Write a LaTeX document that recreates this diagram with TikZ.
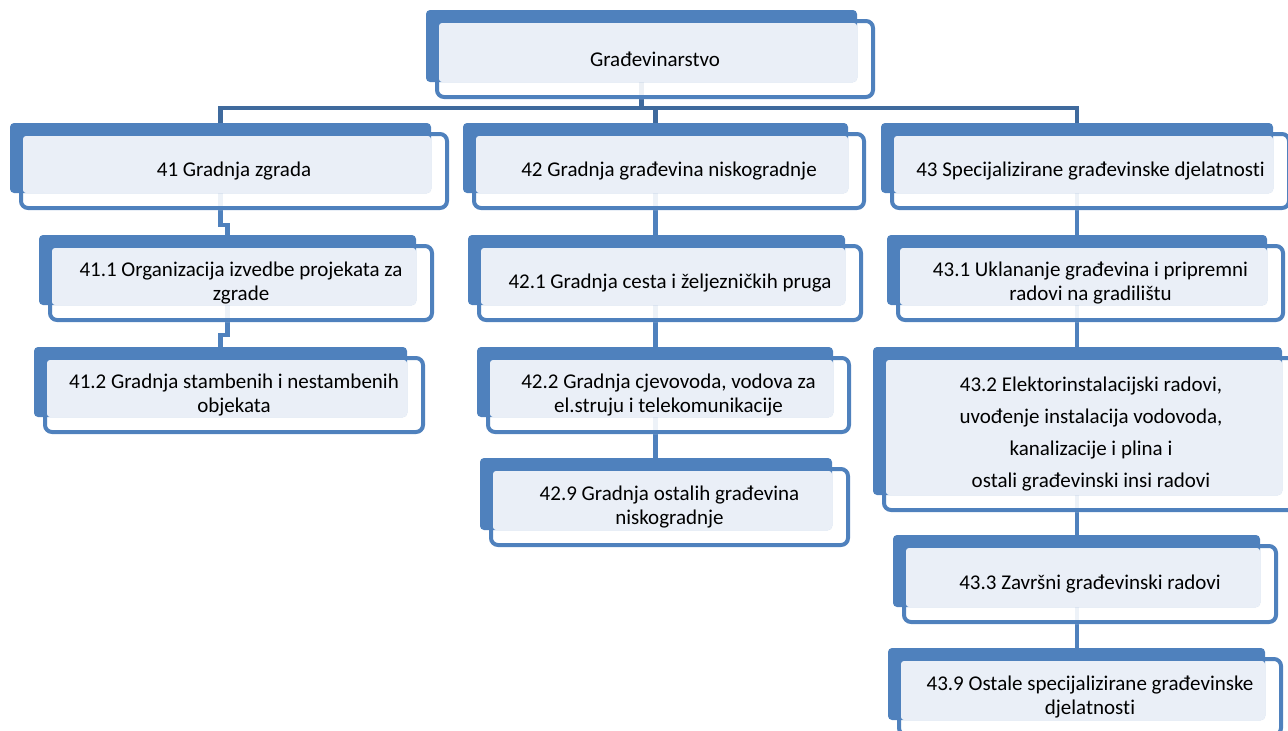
\documentclass[tikz,border=0pt]{standalone}
\usepackage{fontspec}
\setmainfont{Carlito}[Ligatures=NoCommon]
\definecolor{boxblue}{HTML}{4F81BD}
\definecolor{linkdark}{HTML}{3F6A9D}
\definecolor{paleblue}{HTML}{EAEFF7}
\pgfdeclarelayer{bg}
\pgfsetlayers{bg,main}
\tikzset{
  abox/.style={draw=none, fill=boxblue, rounded corners=4pt, inner sep=0pt, outer sep=0pt},
  bfill/.style={fill=white, fill opacity=0.9, rounded corners=7pt},
  bline/.style={draw=boxblue, line width=4pt, rounded corners=7pt},
  cfill/.style={fill=paleblue, rounded corners=3pt},
  lbl/.style={align=center, inner sep=0pt, font=\fontsize{21}{24}\selectfont},
  conn0/.style={draw=linkdark, line width=4.5pt},
  conn/.style={draw=boxblue, line width=4.5pt},
}
\newcommand\orgbox[7][]{%
  \pgfmathsetmacro\obCX{(#3+#5)/2}%
  \pgfmathsetmacro\obCY{(#4+#6)/2}%
  \pgfmathsetmacro\obW{#5-#3}%
  \pgfmathsetmacro\obH{#6-#4}%
  \path[bfill] (#3+9,#4+9) rectangle (#5+18,#6+17);
  \node[abox, minimum width=\obW pt, minimum height=\obH pt] (#2) at (\obCX,\obCY) {};
  \path[bline] (#3+11,#4+11) rectangle (#5+16,#6+15);
  \path[cfill] (#3+13,#4+13) rectangle (#5,#6);
  \node[lbl,#1] (#2-t) at (\obCX+13.5,\obCY+13) {#7};
}
\begin{document}
\begin{tikzpicture}[x=1pt,y=-1pt]
\useasboundingbox (0,0) rectangle (1288,731);
\orgbox{top}{426}{10}{857}{82}{Građevinarstvo}
\orgbox{b41}{10}{123}{431}{193}{41 Gradnja zgrada}
\orgbox{b42}{463}{123}{848}{193}{42 Gradnja građevina niskogradnje}
\orgbox{b43}{881}{123}{1273}{193}{43 Specijalizirane građevinske djelatnosti}
\orgbox{b411}{39}{235}{416}{305}{41.1 Organizacija izvedbe projekata za\\zgrade}
\orgbox{b412}{34}{347}{407}{417}{41.2 Gradnja stambenih i nestambenih\\objekata}
\orgbox{b421}{468}{235}{845}{305}{42.1 Gradnja cesta i željezničkih pruga}
\orgbox{b422}{477}{347}{833}{417}{42.2 Gradnja cjevovoda, vodova za\\el.struju i telekomunikacije}
\orgbox{b429}{480}{458}{832}{530}{42.9 Gradnja ostalih građevina\\niskogradnje}
\orgbox{b431}{887}{235}{1267}{305}{43.1 Uklananje građevina i pripremni\\radovi na gradilištu}
\orgbox[font=\fontsize{21}{32}\selectfont]{b432}{873}{347}{1282}{495}{43.2 Elektorinstalacijski radovi,\\uvođenje instalacija vodovoda,\\kanalizacije i plina i\\ostali građevinski insi radovi}
\orgbox{b433}{893}{535}{1260}{607}{43.3 Završni građevinski radovi}
\orgbox{b439}{888}{648}{1265}{720}{43.9 Ostale specijalizirane građevinske\\djelatnosti}
\begin{pgfonlayer}{bg}
  \coordinate (hub) at ([yshift=-26pt]top.south);
  \draw[conn0] (top.south) -- (hub);
  \draw[conn0] (hub) -| (b41.north);
  \draw[conn0] (hub) -| (b42.north);
  \draw[conn0] (hub) -| (b43.north);
  \draw[conn] (b41.south) -- ++(0,32) -| (b411.north);
  \draw[conn] (b411.south) -- ++(0,30) -| (b412.north);
  \draw[conn] (b42.south) -- (b42.south |- b421.north);
  \draw[conn] (b421.south -| b42.south) -- (b42.south |- b422.north);
  \draw[conn] (b422.south -| b42.south) -- (b42.south |- b429.north);
  \draw[conn] (b43.south) -- (b43.south |- b431.north);
  \draw[conn] (b431.south -| b43.south) -- (b43.south |- b432.north);
  \draw[conn] (b432.south -| b43.south) -- (b43.south |- b433.north);
  \draw[conn] (b433.south -| b43.south) -- (b43.south |- b439.north);
\end{pgfonlayer}
\end{tikzpicture}
\end{document}
